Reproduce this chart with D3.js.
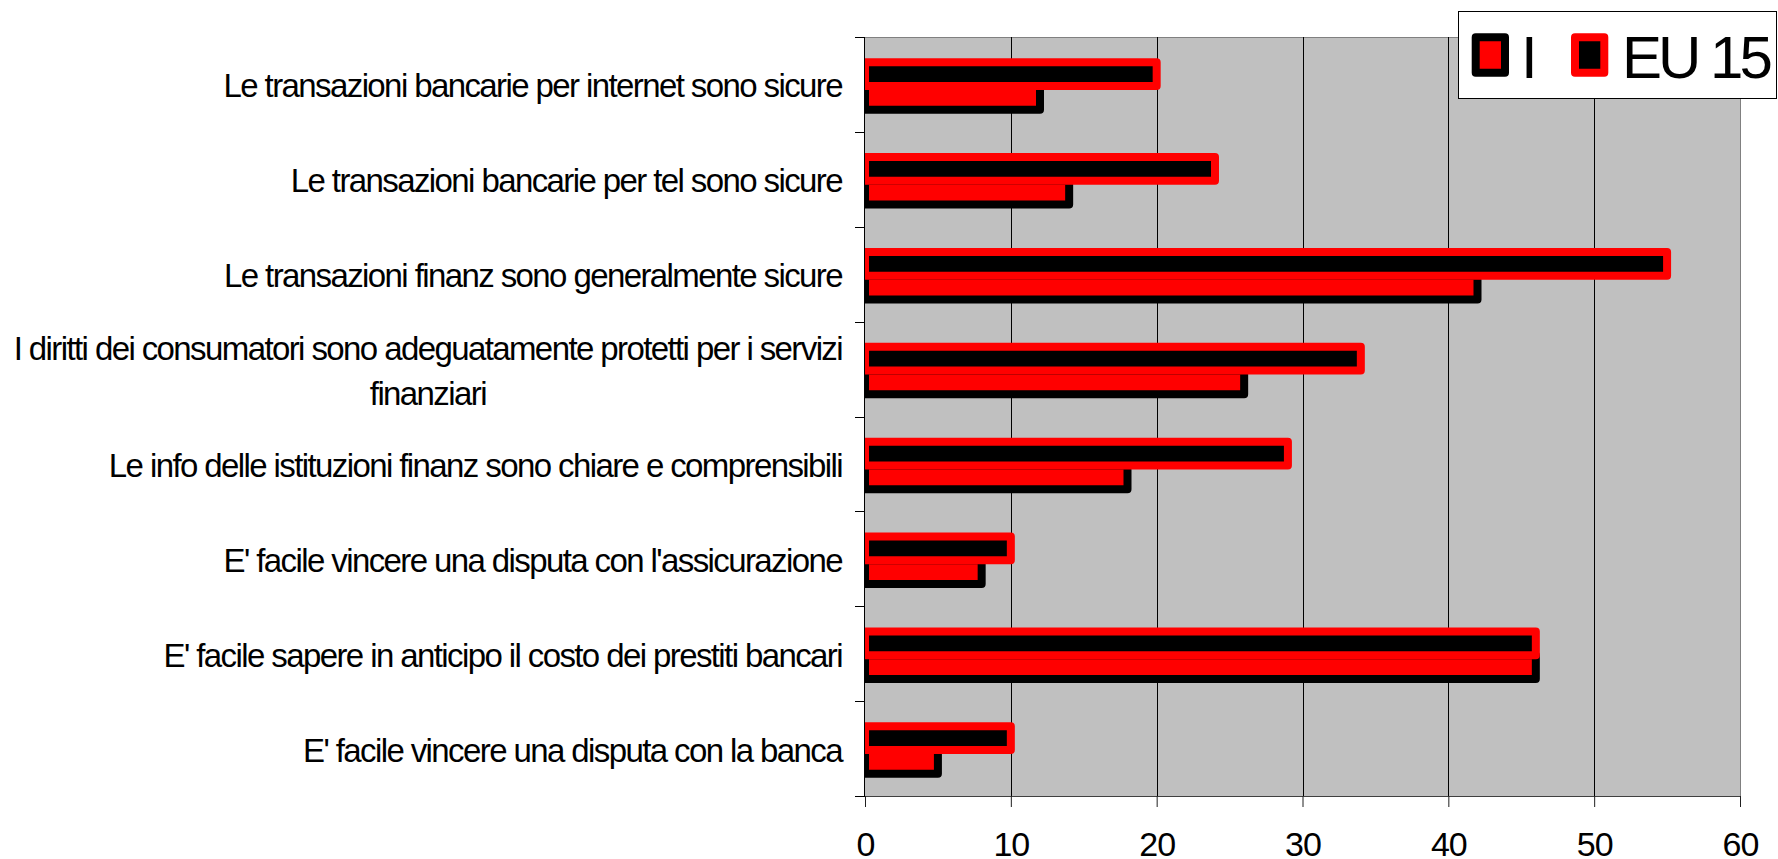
<!DOCTYPE html>
<html><head><meta charset="utf-8">
<script src="https://cdn.jsdelivr.net/npm/d3@7"></script>
<style>
body{margin:0;background:#fff;}
svg{display:block;}
text{font-family:"Liberation Sans",Arial,sans-serif;fill:#000;}
</style>
</head><body>
<svg id="c" width="1778" height="859"></svg>
<script>
// ---- data ----
const categories = [
  "Le transazioni bancarie per internet sono sicure",
  "Le transazioni bancarie per tel sono sicure",
  "Le transazioni finanz sono generalmente sicure",
  "I diritti dei consumatori sono adeguatamente protetti per i servizi\nfinanziari",
  "Le info delle istituzioni finanz sono chiare e comprensibili",
  "E' facile vincere una disputa con l'assicurazione",
  "E' facile sapere in anticipo il costo dei prestiti bancari",
  "E' facile vincere una disputa con la banca"
];
const seriesNames = ["I", "EU 15"];
const valuesI  = [12, 14, 42, 26, 18, 8, 46, 5];
const valuesEU = [20, 24, 55, 34, 29, 10, 46, 10];
const xTicks = [0, 10, 20, 30, 40, 50, 60];

// ---- layout ----
const svg = d3.select("#c");
const plot = {left: 865, right: 1740, top: 37, bottom: 796};
const x = d3.scaleLinear().domain([0, 60]).range([plot.left, plot.right]);
const y = d3.scaleBand().domain(categories).range([plot.top, plot.bottom]);
const yS = d3.scaleBand().domain(["EU 15", "I"])
  .range([1.5, y.bandwidth() + 1.5]).paddingInner(0).paddingOuter(0.994);

const seriesStyle = {
  "I":     {fill: "#FF0000", stroke: "#000000"},
  "EU 15": {fill: "#000000", stroke: "#FF0000"}
};

// plot area
svg.append("rect").attr("x", plot.left).attr("y", plot.top)
  .attr("width", plot.right - plot.left).attr("height", plot.bottom - plot.top)
  .attr("fill", "#C0C0C0");
svg.append("line").attr("x1", plot.left).attr("x2", plot.right)
  .attr("y1", plot.top + 0.5).attr("y2", plot.top + 0.5).attr("stroke", "#808080");
svg.append("line").attr("x1", x(60) + 0.5).attr("x2", x(60) + 0.5)
  .attr("y1", plot.top).attr("y2", plot.bottom).attr("stroke", "#808080");

// gridlines
svg.append("g").selectAll("line").data(xTicks.filter(t => t > 0 && t < 60)).join("line")
  .attr("x1", d => Math.round(x(d)) + 0.5).attr("x2", d => Math.round(x(d)) + 0.5)
  .attr("y1", plot.top).attr("y2", plot.bottom).attr("stroke", "#000").attr("stroke-width", 1);

// clip
svg.append("clipPath").attr("id", "clip").append("rect")
  .attr("x", plot.left).attr("y", plot.top)
  .attr("width", plot.right - plot.left + 20).attr("height", plot.bottom - plot.top);

const barsG = svg.append("g").attr("clip-path", "url(#clip)");
const seriesData = [
  {name: "I", values: valuesI},
  {name: "EU 15", values: valuesEU}
];
seriesData.forEach(s => {
  barsG.append("g").selectAll("rect").data(s.values.map((v, i) => ({v, c: categories[i]}))).join("rect")
    .attr("x", x(0))
    .attr("y", d => y(d.c) + yS(s.name))
    .attr("width", d => x(d.v) - x(0))
    .attr("height", yS.bandwidth())
    .attr("fill", seriesStyle[s.name].fill)
    .attr("stroke", seriesStyle[s.name].stroke)
    .attr("stroke-width", 8)
    .attr("stroke-linejoin", "round");
});

// left axis line and boundary ticks
const bounds = d3.range(categories.length + 1).map(i => plot.top + i * y.step());
svg.append("line").attr("x1", plot.left - 0.5).attr("x2", plot.left - 0.5)
  .attr("y1", plot.top).attr("y2", plot.bottom).attr("stroke", "#000");
svg.append("g").selectAll("line").data(bounds).join("line")
  .attr("x1", plot.left - 10).attr("x2", plot.left)
  .attr("y1", d => Math.round(d) + 0.5).attr("y2", d => Math.round(d) + 0.5)
  .attr("stroke", "#000");

// bottom axis
const xAxis = d3.axisBottom(x).tickValues(xTicks).tickSize(11).tickPadding(0).tickFormat(d3.format("d"));
const gx = svg.append("g").attr("transform", `translate(0,${plot.bottom})`).call(xAxis);
gx.select(".domain").attr("stroke", "#404040");
gx.selectAll(".tick line").attr("stroke", "#202020");
gx.selectAll(".tick text")
  .attr("y", 60).attr("dy", null)
  .style("font-family", '"Liberation Sans",Arial,sans-serif')
  .style("font-size", "34px").style("letter-spacing", "-1px").attr("fill", "#000");

// category labels
const labelRight = 842;
categories.forEach(c => {
  const lines = c.split("\n");
  const yc = y(c) + y.bandwidth() / 2 + 1;
  const lh = 45;
  const g = svg.append("g");
  const texts = lines.map((ln, i) => g.append("text")
    .attr("y", yc + 12 + (i - (lines.length - 1) / 2) * lh)
    .style("font-size", "33px").style("letter-spacing", "-1.6px")
    .text(ln));
  if (lines.length === 1) {
    texts[0].attr("x", labelRight).attr("text-anchor", "end");
  } else {
    const w = d3.max(texts, t => t.node().getComputedTextLength());
    const cx = labelRight - w / 2;
    texts.forEach(t => t.attr("x", cx).attr("text-anchor", "middle"));
  }
});

// legend
const lg = svg.append("g");
lg.append("rect").attr("x", 1458.5).attr("y", 11.5).attr("width", 318).attr("height", 87)
  .attr("fill", "#fff").attr("stroke", "#000").attr("stroke-width", 1);
const legendItems = [
  {name: "I", mx: 1475.7, tx: 1521},
  {name: "EU 15", mx: 1575, tx: 1622}
];
legendItems.forEach(it => {
  lg.append("rect").attr("x", it.mx).attr("y", 37.3).attr("width", 29.3).attr("height", 35.4)
    .attr("fill", seriesStyle[it.name].fill).attr("stroke", seriesStyle[it.name].stroke)
    .attr("stroke-width", 8).attr("stroke-linejoin", "round");
  lg.append("text").attr("x", it.tx).attr("y", 78)
    .style("font-size", "60px").style("letter-spacing", "-4px").text(it.name);
});
</script>
</body></html>
